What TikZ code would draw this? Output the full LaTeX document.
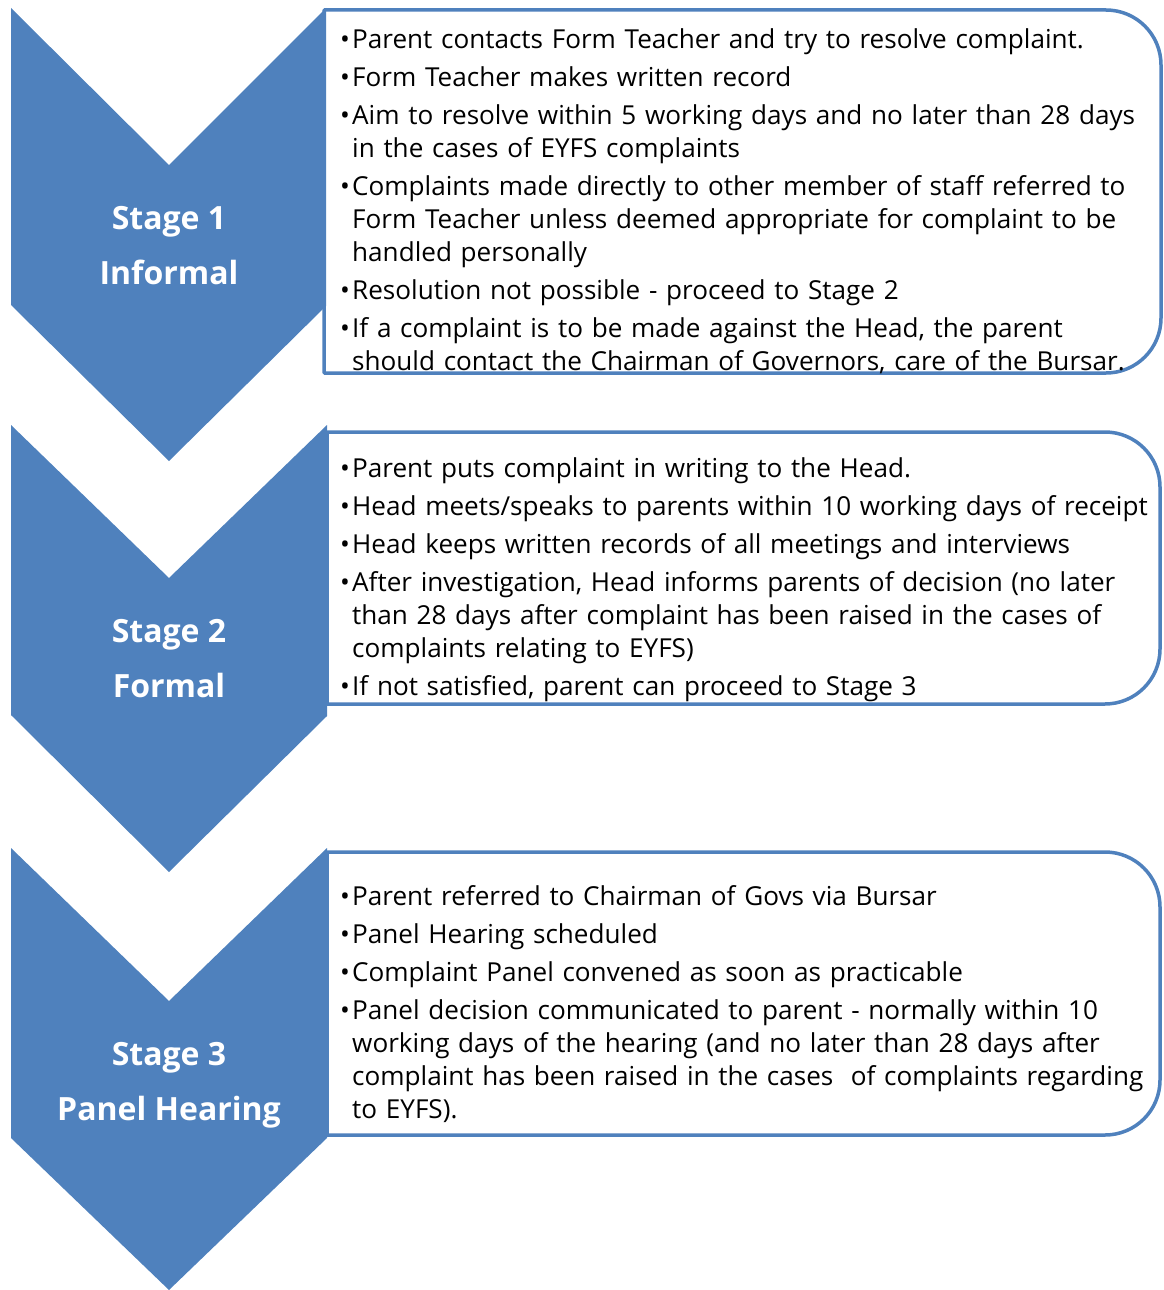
\documentclass[tikz,border=0pt]{standalone}
\usepackage{fontspec}
\setmainfont{Open Sans}
\definecolor{chev}{HTML}{4F81BD}
\newcommand\bitem[1]{\hangindent=12pt\hangafter=1\noindent\makebox[12pt][l]{•}\rule{0pt}{20pt}#1\par}
\begin{document}
\begin{tikzpicture}[x=1pt,y=-1pt,
  chevron/.style={fill=chev, draw=none},
  infobox/.style={draw=chev, line width=3.5pt, fill=white, line join=round},
  stagelabel/.style={text=white, font=\fontsize{32}{36}\selectfont\bfseries, anchor=base, inner sep=0pt},
  itemtext/.style={anchor=north west, inner sep=0pt, text width=830pt, font=\fontsize{26.1}{33}\selectfont}
]
\useasboundingbox (0,0) rectangle (1163,1290);

% boxes
\draw[infobox] (324,373) -- (324,10) -- (1106,10) .. controls (1136.4,10) and (1161,34.6) .. (1161,65)
  -- (1161,318) .. controls (1161,348.4) and (1136.4,373) .. (1106,373) -- cycle;
\draw[infobox] (327,704) -- (327,432) -- (1105,432) .. controls (1135.4,432) and (1160,456.6) .. (1160,487)
  -- (1160,649) .. controls (1160,679.4) and (1135.4,704) .. (1105,704) -- cycle;
\draw[infobox] (327,1135) -- (327,852) -- (1105,852) .. controls (1135.4,852) and (1160,876.6) .. (1160,907)
  -- (1160,1080) .. controls (1160,1110.4) and (1135.4,1135) .. (1105,1135) -- cycle;

% chevrons
\fill[chevron] (11,8) -- (169,165) -- (326,8) -- (326,306) -- (169,461) -- (11,305) -- cycle;
\fill[chevron] (11,425) -- (169,578) -- (327,425) -- (327,716) -- (169,872) -- (11,715) -- cycle;
\fill[chevron] (11,848) -- (169,1001) -- (327,848) -- (327,1138) -- (169,1290) -- (11,1138) -- cycle;

% stage labels
\node[stagelabel] (s1a) at (169,229) {Stage 1};
\node[stagelabel] (s1b) at (169,284) {Informal};
\node[stagelabel] (s2a) at (169,642) {Stage 2};
\node[stagelabel] (s2b) at (169,697) {Formal};
\node[stagelabel] (s3a) at (169,1065) {Stage 3};
\node[stagelabel] (s3b) at (169,1120) {Panel Hearing};

% texts
\node[itemtext] (t1) at (340,28) {\raggedright\parskip=5pt\parindent=0pt%
\bitem{Parent contacts Form Teacher and try to resolve complaint.}%
\bitem{Form Teacher makes written record}%
\bitem{Aim to resolve within 5 working days and no later than 28 days\newline in the cases of EYFS complaints}%
\bitem{Complaints made directly to other member of staff referred to\newline Form Teacher unless deemed appropriate for complaint to be\newline handled personally}%
\bitem{Resolution not possible - proceed to Stage 2}%
\bitem{If a complaint is to be made against the Head, the parent\newline should contact the Chairman of Governors, care of the Bursar.}};

\node[itemtext] (t2) at (340,457) {\raggedright\parskip=5pt\parindent=0pt%
\bitem{Parent puts complaint in writing to the Head.}%
\bitem{Head meets/speaks to parents within 10 working days of receipt}%
\bitem{Head keeps written records of all meetings and interviews}%
\bitem{After investigation, Head informs parents of decision (no later\newline than 28 days after complaint has been raised in the cases of\newline complaints relating to EYFS)}%
\bitem{If not satisfied, parent can proceed to Stage 3}};

\node[itemtext] (t3) at (340,885) {\raggedright\parskip=5pt\parindent=0pt%
\bitem{Parent referred to Chairman of Govs via Bursar}%
\bitem{Panel Hearing scheduled}%
\bitem{Complaint Panel convened as soon as practicable}%
\bitem{Panel decision communicated to parent - normally within 10\newline working days of the hearing (and no later than 28 days after\newline complaint has been raised in the cases\ \ of complaints regarding\newline to EYFS).}};
\end{tikzpicture}
\end{document}
